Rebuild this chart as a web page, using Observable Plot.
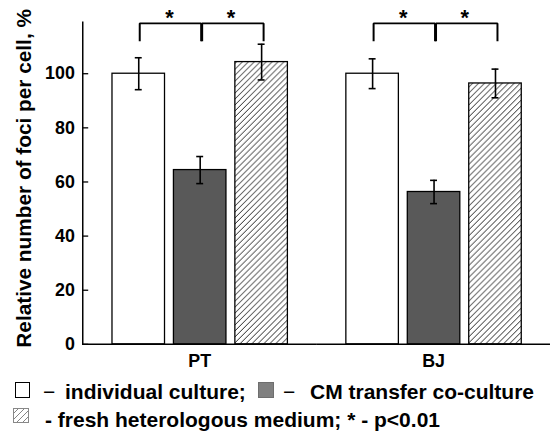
<!DOCTYPE html>
<html>
<head>
<meta charset="utf-8">
<script src="https://cdn.jsdelivr.net/npm/d3@7"></script>
<script src="https://cdn.jsdelivr.net/npm/@observablehq/plot@0.6"></script>
<style>
  html, body { margin: 0; padding: 0; background: #fff; overflow: hidden; }
  body { font-family: "Liberation Sans", Arial, Helvetica, sans-serif; font-weight: bold; color: #000; }
  #legend { position: relative; width: 550px; height: 63px; font-size: 21px; }
  #legend .t { position: absolute; line-height: 21px; white-space: nowrap; }
  #legend .dash { font-weight: normal; }
  #legend .sw { position: absolute; box-sizing: border-box; }
</style>
</head>
<body>
<div id="chart"></div>
<div id="legend"></div>
<script>
// Foci per cell, relative to individual culture (%), mean and error
const cellLines = ["PT", "BJ"];
const conditions = ["individual culture", "CM transfer co-culture", "fresh heterologous medium"];
const ptValues = [100, 64.4, 104.3];
const ptErrors = [5.9, 5.0, 6.6];
const bjValues = [100, 56.3, 96.4];
const bjErrors = [5.5, 4.3, 5.3];
const yTicks = [0, 20, 40, 60, 80, 100];
const yLabel = "Relative number of foci per cell, %";
// significance brackets: pairs of conditions compared within each cell line
const comparisons = [[0, 1], [1, 2]];
const bracketTop = 118.6;
const bracketFoot = 112;
const starLevel = 120.4;
const starText = "*";

const FONT = '"Liberation Sans", Arial, Helvetica, sans-serif';
const barFills = ["#ffffff", "#595959", "url(#hatch)"];

const values = [ptValues, bjValues];
const errors = [ptErrors, bjErrors];
const rows = cellLines.flatMap((cell, i) =>
  conditions.map((cond, j) => ({cell, cond, value: values[i][j], err: errors[i][j]})));
const caps = rows.flatMap(d => [
  {cell: d.cell, cond: d.cond, y: d.value - d.err},
  {cell: d.cell, cond: d.cond, y: d.value + d.err}
]);

function bracketPath(cell, k) {
  const [a, b] = comparisons[k];
  const id = cell + k;
  return [
    {cell, id, cond: conditions[a], y: bracketFoot},
    {cell, id, cond: conditions[a], y: bracketTop},
    {cell, id, cond: conditions[b], y: bracketTop},
    {cell, id, cond: conditions[b], y: bracketFoot}
  ];
}
const leftBrackets = cellLines.flatMap(c => bracketPath(c, 0));
const rightBrackets = cellLines.flatMap(c => bracketPath(c, 1));
const stars = cellLines.flatMap(cell =>
  comparisons.map(([a]) => ({cell, cond: conditions[a]})));

const chart = Plot.plot({
  width: 555,
  height: 375,
  marginLeft: 82,
  marginRight: 0,
  marginTop: 22,
  marginBottom: 28,
  style: {fontFamily: FONT, fontSize: "18px", fontWeight: "bold", color: "#000", background: "transparent", overflow: "visible"},
  fx: {domain: cellLines, padding: 0, label: null},
  x: {domain: conditions, paddingInner: 0.152, paddingOuter: 0.468, axis: null},
  y: {domain: [0, 119]},
  color: {domain: conditions, range: barFills},
  marks: [
    Plot.barY(rows, {fx: "cell", x: "cond", y: "value", fill: "cond", stroke: "#000", strokeWidth: 1.3}),
    Plot.ruleX(rows, {fx: "cell", x: "cond", y1: d => d.value - d.err, y2: d => d.value + d.err, stroke: "#000", strokeWidth: 1.6}),
    Plot.tickY(caps, {fx: "cell", x: "cond", y: "y", insetLeft: 23, insetRight: 23, stroke: "#000", strokeWidth: 1.6}),
    Plot.ruleY([0], {stroke: "#000", strokeWidth: 1.5}),
    Plot.frame({anchor: "left", facetAnchor: "left", stroke: "#000", strokeWidth: 1.5}),
    Plot.axisY(yTicks, {tickSize: -6, tickPadding: 14, label: null, fontSize: 18, strokeWidth: 1.3}),
    Plot.text([yLabel], {frameAnchor: "left", facetAnchor: "left", rotate: -90, textAnchor: "middle", lineAnchor: "top", dx: -67, dy: -5, fontSize: 21, fontWeight: "bold"}),
    Plot.axisFx({anchor: "bottom", tickSize: 0, tickPadding: 10, label: null, fontSize: 18}),
    Plot.line(leftBrackets, {fx: "cell", x: "cond", y: "y", z: "id", dx: 1, stroke: "#000", strokeWidth: 2, strokeLinejoin: "miter", strokeLinecap: "butt"}),
    Plot.line(rightBrackets, {fx: "cell", x: "cond", y: "y", z: "id", dx: 2, stroke: "#000", strokeWidth: 2, strokeLinejoin: "miter", strokeLinecap: "butt"}),
    Plot.text(stars, {fx: "cell", x: "cond", y: starLevel, text: () => starText, dx: 31, fontSize: 22, fontWeight: "bold"})
  ]
});

// diagonal hatch used by the fresh-medium bars
function addHatch(svg, id, color, width) {
  const defs = d3.select(svg).insert("defs", ":first-child");
  const p = defs.append("pattern")
    .attr("id", id).attr("patternUnits", "userSpaceOnUse")
    .attr("width", 6).attr("height", 6);
  p.append("rect").attr("width", 6).attr("height", 6).attr("fill", "#fff");
  p.append("path").attr("d", "M-1,1 l2,-2 M0,6 l6,-6 M5,7 l2,-2")
    .attr("stroke", color).attr("stroke-width", width).attr("fill", "none");
}
addHatch(chart, "hatch", "#222", 1);
document.getElementById("chart").appendChild(chart);

// legend
const legend = d3.select("#legend");
function label(text, left, top, cls) {
  legend.append("span").attr("class", "t" + (cls ? " " + cls : "")).style("left", left + "px").style("top", top + "px").text(text);
}
legend.append("div").attr("class", "sw")
  .style("left", "15px").style("top", "10px").style("width", "15px").style("height", "16px")
  .style("border", "1.3px solid #000").style("background", "#fff");
label("\u2212", 43, 9, "dash");
label("individual culture;", 65, 9);
legend.append("div").attr("class", "sw")
  .style("left", "258px").style("top", "10px").style("width", "16px").style("height", "16px")
  .style("border", "1px solid #6e6e6e").style("background", "#808080");
label("\u2212", 283, 9, "dash");
label("CM transfer co-culture", 310, 9);
const key = legend.append("svg").attr("class", "sw")
  .attr("width", 16).attr("height", 15)
  .style("left", "13px").style("top", "36px");
addHatch(key.node(), "hatchKey", "#777", 0.9);
key.append("rect").attr("x", 0.5).attr("y", 0.5).attr("width", 15).attr("height", 14)
  .attr("fill", "url(#hatchKey)").attr("stroke", "#888").attr("stroke-width", 1);
label("- fresh heterologous medium; * - p<0.01", 45, 37);
</script>
</body>
</html>
